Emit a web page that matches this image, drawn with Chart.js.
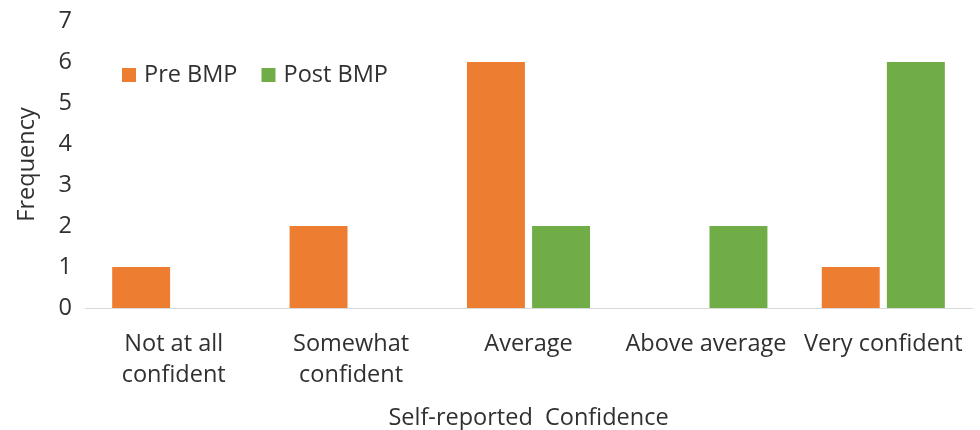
<!DOCTYPE html>
<html>
<head>
<meta charset="utf-8">
<script src="https://cdn.jsdelivr.net/npm/chart.js@4"></script>
<style>
  html, body { margin: 0; padding: 0; background: #fff; }
  #wrap { width: 980px; height: 430px; }
</style>
</head>
<body>
<div id="wrap"><canvas id="chart"></canvas></div>
<script>
const categories = [['Not at all', 'confident'], ['Somewhat', 'confident'], 'Average', 'Above average', 'Very confident'];
const preBmp = [1, 2, 6, 0, 1];
const postBmp = [0, 0, 2, 2, 6];
const yTicks = [0, 1, 2, 3, 4, 5, 6, 7];

const FONT = '"Open Sans", sans-serif';
const SIZE = 23.5;
const TEXT = '#303030';

// legend sits inside the plot, top-left, in one row
const insideLegend = {
    id: 'insideLegend',
    afterDraw(chart) {
        const c = chart.ctx;
        const area = chart.chartArea;
        let x = area.left + 37;
        const y = area.top + 54;
        c.save();
        c.font = SIZE + 'px ' + FONT;
        c.textBaseline = 'middle';
        c.textAlign = 'left';
        chart.data.datasets.forEach(ds => {
            c.fillStyle = ds.backgroundColor;
            c.fillRect(x, y - 7, 14, 14);
            x += 22;
            c.fillStyle = TEXT;
            c.fillText(ds.label, x, y);
            x += c.measureText(ds.label).width + 24;
        });
        c.restore();
    }
};

const ctx = document.getElementById('chart').getContext('2d');
new Chart(ctx, {
    type: 'bar',
    data: {
        labels: categories,
        datasets: [
            { label: 'Pre BMP', data: preBmp, backgroundColor: '#ED7D31' },
            { label: 'Post BMP', data: postBmp, backgroundColor: '#70AD47' }
        ]
    },
    plugins: [insideLegend],
    options: {
        responsive: true,
        maintainAspectRatio: false,
        animation: false,
        categoryPercentage: 0.734,
        barPercentage: 0.89,
        layout: { padding: { top: 21, right: 8, left: 0, bottom: 0 } },
        plugins: {
            legend: { display: false },
            tooltip: { enabled: false }
        },
        scales: {
            x: {
                afterFit: axis => {
                    axis.height = 122;
                    axis.paddingLeft = 0;
                    axis.paddingRight = 0;
                },
                grid: { display: false, drawTicks: false },
                border: { display: true, color: '#d9d9d9', width: 1 },
                ticks: {
                    color: TEXT,
                    maxRotation: 0,
                    autoSkip: false,
                    padding: 21,
                    font: { family: FONT, size: SIZE, lineHeight: 1.32 }
                },
                title: {
                    display: true,
                    text: 'Self-reported  Confidence',
                    color: TEXT,
                    padding: { top: 0, bottom: 0 },
                    font: { family: FONT, size: SIZE, lineHeight: 1.0 }
                }
            },
            y: {
                min: 0,
                max: 7,
                afterBuildTicks: axis => { axis.ticks = yTicks.map(v => ({ value: v })); },
                afterFit: axis => {
                    axis.width = 85;
                    axis.paddingTop = 0;
                    axis.paddingBottom = 0;
                },
                grid: { display: false, drawTicks: false },
                border: { display: false },
                ticks: {
                    color: TEXT,
                    padding: 13,
                    font: { family: FONT, size: SIZE }
                },
                title: {
                    display: true,
                    text: 'Frequency',
                    color: TEXT,
                    padding: { top: 13, bottom: 0 },
                    font: { family: FONT, size: SIZE }
                }
            }
        }
    }
});
</script>
</body>
</html>
